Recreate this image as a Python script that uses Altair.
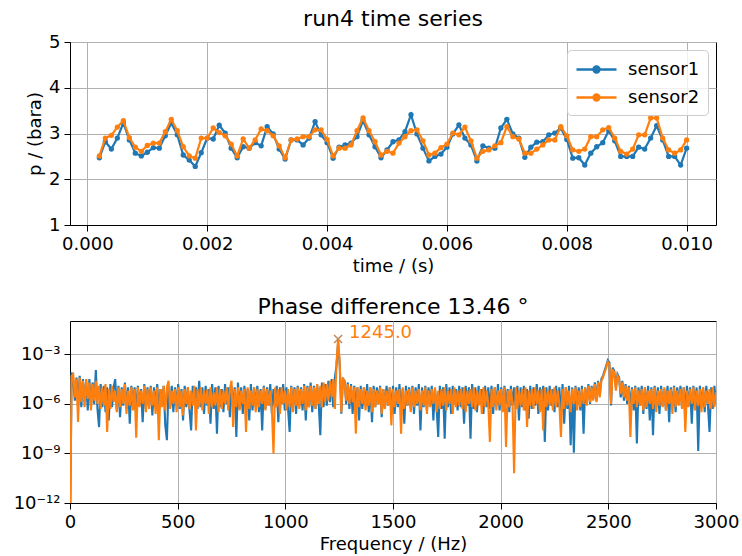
import altair as alt
import pandas as pd

FONT = "DejaVu Sans"
BLUE = "#1f77b4"
ORANGE = "#ff7f0e"

# ---------------- time series (p / bara), samples every 0.1 ms from 0.2 ms ----------------
time_start = 0.0002
time_step = 0.0001
sensor1_p = [2.47, 2.82, 2.66, 2.90, 3.23, 2.86, 2.57, 2.51, 2.59, 2.69,
             2.68, 2.95, 3.23, 2.97, 2.53, 2.42, 2.28, 2.58, 2.90, 2.88,
             3.18, 3.01, 2.68, 2.47, 2.71, 2.68, 2.80, 2.73, 3.15, 2.99,
             2.66, 2.44, 2.86, 2.86, 2.75, 2.90, 3.26, 2.97, 2.80,
             2.46, 2.70, 2.75, 2.79, 2.93, 3.28, 2.97, 2.71, 2.47, 2.64,
             2.82, 2.86, 3.04, 3.41, 2.99, 2.68, 2.40, 2.50, 2.55, 2.70,
             2.99, 3.19, 2.90, 2.75, 2.40, 2.73, 2.68, 2.68, 3.12, 3.31,
             2.99, 2.90, 2.48, 2.70, 2.81, 2.82, 2.97, 3.01, 3.12, 2.87,
             2.46, 2.47, 2.31, 2.57, 2.71, 2.80, 3.06, 2.84, 2.50, 2.50,
             2.50, 2.70, 2.66, 2.90, 3.17, 2.86, 2.50, 2.50, 2.31, 2.68]
sensor2_p = [2.51, 2.90, 2.96, 3.14, 3.28, 2.91, 2.70, 2.61, 2.74, 2.79,
             2.79, 3.04, 3.31, 3.06, 2.71, 2.51, 2.46, 2.90, 2.90, 3.12,
             3.02, 2.95, 2.77, 2.51, 2.88, 2.68, 2.86, 3.10, 3.06, 2.95,
             2.73, 2.47, 2.86, 2.88, 2.93, 2.93, 3.08, 3.08, 2.87,
             2.51, 2.68, 2.68, 2.75, 3.06, 3.34, 3.06, 2.82, 2.53, 2.61,
             2.57, 2.79, 2.93, 3.06, 3.08, 2.84, 2.53, 2.57, 2.69, 2.77,
             3.01, 2.97, 3.14, 2.84, 2.46, 2.61, 2.64, 2.73, 2.80, 3.15,
             2.93, 2.88, 2.57, 2.57, 2.66, 2.75, 2.86, 2.86, 3.15, 2.95,
             2.64, 2.61, 2.66, 2.93, 2.93, 3.08, 3.13, 2.90, 2.61, 2.55,
             2.66, 2.97, 2.97, 3.34, 3.34, 2.90, 2.64, 2.57, 2.64, 2.86]
time_s = [round(time_start + time_step * i, 4) for i in range(len(sensor1_p))]
time_ticks = [0.0, 0.002, 0.004, 0.006, 0.008, 0.010]
p_ticks = [1, 2, 3, 4, 5]

# ---------------- spectrum: log10 of amplitude, every 7.5 Hz from 0 to 3000 Hz ----------------
freq_step = 7.5
sensor1_log = [
    # 0 - 142.5 Hz
    -14, -4.1, -4.6, -5.8, -4.4, -6.0, -4.3, -6.2, -4.5, -5.9, -4.6, -6.4, -4.5, -6.1, -4.7, -6.0, -3.95, -6.3, -7.4, -4.8,
    # 150 - 292.5
    -6.2, -4.9, -6.5, -5.0, -7.0, -4.8, -6.2, -5.0, -4.5, -6.4, -4.9, -6.8, -5.0, -6.1, -4.7, -6.3, -5.0, -7.2, -4.9, -6.2,
    # 300 - 442.5
    -5.0, -6.4, -4.9, -6.1, -5.1, -7.1, -4.8, -6.3, -5.0, -6.0, -4.9, -6.7, -5.0, -6.2, -4.8, -6.4, -5.1, -6.0, -4.9, -7.3,
    # 450 - 592.5
    -8.2, -5.0, -6.2, -4.9, -6.5, -5.0, -6.1, -4.8, -6.3, -5.1, -7.0, -4.9, -6.2, -5.0, -6.4, -7.6, -4.9, -6.0, -5.0, -6.3,
    # 600 - 742.5
    -4.6, -6.2, -5.0, -6.6, -4.9, -6.1, -5.1, -7.2, -4.8, -6.3, -5.0, -7.8, -4.9, -6.2, -5.1, -6.5, -4.8, -6.0, -5.0, -6.8,
    # 750 - 892.5
    -4.9, -6.2, -5.0, -8.0, -4.7, -6.3, -5.0, -6.6, -4.9, -6.1, -5.1, -7.0, -4.8, -6.4, -5.0, -6.2, -4.9, -6.5, -5.1, -7.6,
    # 900 - 1042.5
    -4.9, -6.3, -5.0, -6.1, -4.8, -6.6, -5.1, -6.2, -4.9, -7.1, -5.0, -6.0, -4.8, -6.4, -5.0, -6.3, -7.7, -4.9, -6.2, -5.0,
    # 1050 - 1192.5
    -6.6, -4.9, -6.1, -5.0, -6.4, -4.8, -7.0, -4.9, -6.2, -4.7, -6.5, -4.9, -6.3, -4.8, -6.0, -7.9, -4.7, -6.2, -4.8, -6.1,
    # 1200 - 1342.5
    -4.6, -5.9, -4.5, -6.2, -4.4, -3.7, -2.3, -3.6, -6.6, -4.5, -4.6, -6.0, -4.7, -6.3, -4.8, -6.6, -4.9, -6.2, -5.0, -7.0,
    # 1350 - 1492.5
    -4.9, -6.3, -5.0, -6.1, -4.8, -6.5, -5.0, -7.1, -4.9, -6.2, -5.0, -6.0, -4.9, -6.8, -5.1, -6.3, -4.9, -6.1, -5.0, -6.4,
    # 1500 - 1642.5
    -4.9, -6.6, -5.0, -6.2, -4.8, -6.4, -5.1, -7.2, -4.9, -6.1, -5.0, -6.3, -4.9, -6.6, -5.0, -6.1, -4.8, -7.6, -5.0, -6.2,
    # 1650 - 1792.5
    -4.9, -6.4, -5.0, -6.1, -4.9, -7.0, -5.1, -6.2, -8.0, -4.9, -6.3, -5.0, -8.1, -4.8, -6.2, -5.0, -6.6, -4.9, -6.0, -5.1,
    # 1800 - 1942.5
    -6.4, -4.9, -6.2, -5.0, -7.2, -4.9, -6.1, -5.0, -8.1, -4.8, -6.3, -5.0, -6.5, -4.9, -6.0, -5.1, -6.6, -4.9, -6.2, -5.0,
    # 1950 - 2092.5
    -6.3, -4.9, -6.6, -5.0, -6.1, -4.8, -6.4, -5.0, -6.2, -4.9, -6.0, -5.1, -6.5, -4.9, -6.1, -5.0, -6.3, -4.9, -7.0, -5.0,
    # 2100 - 2242.5
    -6.2, -4.9, -6.4, -5.1, -6.9, -4.9, -6.3, -5.0, -6.1, -4.8, -6.6, -5.0, -6.2, -4.9, -8.3, -5.0, -6.4, -4.9, -6.1, -5.1,
    # 2250 - 2392.5
    -6.5, -4.9, -6.2, -5.0, -6.7, -4.8, -7.2, -5.0, -6.3, -4.9, -8.5, -5.0, -8.95, -4.9, -6.1, -5.0, -6.4, -4.9, -7.8, -5.0,
    # 2400 - 2542.5
    -5.9, -4.8, -6.0, -4.9, -5.7, -4.7, -5.8, -4.6, -5.5, -4.5, -4.3, -4.0, -3.7, -3.35, -3.5, -6.1, -3.8, -4.0, -5.0, -4.2,
    # 2550 - 2692.5
    -4.4, -5.6, -4.6, -5.8, -4.8, -6.0, -4.9, -6.2, -5.0, -6.4, -4.9, -8.4, -5.0, -6.1, -4.9, -6.6, -5.0, -6.3, -4.9, -7.0,
    # 2700 - 2842.5
    -5.0, -7.9, -4.9, -6.2, -5.0, -6.6, -4.9, -6.1, -5.1, -6.4, -4.9, -7.1, -5.0, -6.2, -4.9, -6.5, -5.0, -6.0, -4.9, -6.3,
    # 2850 - 2992.5
    -5.0, -6.4, -4.9, -6.1, -5.0, -7.2, -4.9, -6.3, -5.0, -8.85, -4.9, -6.2, -5.0, -6.5, -4.9, -6.1, -7.7, -5.0, -6.3, -4.9,
    # 3000
    -6.0]
sensor2_log = [
    # 0 - 142.5 Hz
    -14, -4.3, -4.2, -5.6, -4.5, -7.1, -4.4, -5.9, -4.6, -6.2, -4.5, -5.7, -4.7, -6.4, -4.8, -5.8, -4.6, -6.0, -4.9, -6.3,
    # 150 - 292.5
    -5.0, -6.1, -4.8, -7.7, -5.1, -6.3, -4.9, -5.9, -5.2, -6.5, -5.0, -6.2, -5.1, -6.0, -4.8, -6.6, -5.2, -6.1, -5.0, -6.4,
    # 300 - 442.5
    -5.1, -8.05, -5.0, -6.2, -5.2, -6.0, -4.9, -6.5, -5.1, -6.3, -5.0, -6.1, -5.2, -6.6, -5.0, -8.2, -5.1, -6.2, -4.9, -6.4,
    # 450 - 592.5
    -5.0, -4.6, -6.3, -5.2, -6.0, -5.1, -6.5, -5.0, -6.2, -5.2, -6.7, -5.1, -6.0, -5.0, -6.3, -5.2, -6.1, -4.9, -7.6, -5.1,
    # 600 - 742.5
    -6.2, -5.0, -6.4, -5.2, -6.0, -5.1, -6.6, -5.0, -6.2, -5.3, -6.1, -5.0, -6.5, -5.1, -6.3, -5.2, -6.0, -5.0, -6.4, -5.1,
    # 750 - 892.5
    -4.6, -7.4, -5.1, -6.2, -5.0, -6.4, -5.2, -6.0, -5.1, -7.7, -5.0, -6.3, -5.2, -6.1, -5.0, -6.5, -5.1, -6.2, -5.2, -6.0,
    # 900 - 1042.5
    -5.0, -6.4, -5.1, -6.1, -5.2, -6.3, -9.0, -5.0, -6.2, -5.1, -6.6, -5.0, -6.0, -5.2, -6.4, -5.1, -6.2, -5.0, -6.5, -5.1,
    # 1050 - 1192.5
    -6.1, -5.0, -6.3, -5.1, -6.0, -4.9, -6.4, -5.0, -6.2, -4.9, -6.1, -5.0, -6.3, -4.8, -6.0, -4.9, -6.2, -4.7, -5.9, -4.8,
    # 1200 - 1342.5
    -5.8, -4.6, -5.6, -4.5, -6.3, -3.6, -2.07, -3.5, -6.5, -4.4, -4.7, -5.8, -4.8, -6.0, -4.9, -5.9, -5.0, -7.8, -5.0, -6.2,
    # 1350 - 1492.5
    -5.1, -6.0, -5.0, -6.4, -5.2, -6.1, -5.0, -6.5, -5.1, -6.2, -5.2, -6.0, -5.0, -6.6, -5.1, -6.3, -5.2, -6.1, -5.0, -7.3,
    # 1500 - 1642.5
    -5.1, -6.2, -5.2, -6.0, -5.1, -7.8, -5.0, -6.3, -5.2, -6.1, -5.1, -6.5, -5.0, -6.2, -5.2, -6.0, -5.1, -6.4, -5.2, -6.1,
    # 1650 - 1792.5
    -5.0, -6.6, -5.2, -6.2, -5.1, -6.0, -5.0, -6.5, -5.2, -6.3, -5.1, -6.1, -5.0, -6.4, -5.2, -6.0, -5.1, -6.6, -5.0, -6.2,
    # 1800 - 1942.5
    -5.2, -6.1, -5.1, -6.3, -5.0, -6.5, -5.2, -6.0, -5.1, -6.2, -5.0, -6.4, -5.2, -6.1, -5.1, -6.6, -5.0, -6.2, -5.2, -6.0,
    # 1950 - 2092.5
    -8.3, -5.1, -6.2, -5.0, -6.4, -5.2, -6.1, -5.1, -6.5, -5.0, -8.6, -5.2, -6.2, -5.1, -6.0, -10.2, -5.0, -6.3, -5.2, -6.1,
    # 2100 - 2242.5
    -5.1, -6.4, -5.0, -7.4, -5.2, -6.1, -5.1, -6.3, -5.0, -6.0, -5.2, -6.5, -5.1, -7.6, -5.0, -6.2, -5.2, -6.1, -5.1, -6.4,
    # 2250 - 2392.5
    -5.0, -6.2, -5.2, -6.0, -8.0, -5.1, -6.3, -5.0, -6.1, -5.2, -6.5, -5.1, -6.0, -5.0, -6.4, -5.2, -6.2, -5.1, -6.0, -5.0,
    # 2400 - 2542.5
    -6.1, -4.9, -5.9, -5.0, -5.8, -4.8, -5.9, -4.7, -5.6, -4.6, -4.4, -4.1, -3.8, -3.45, -3.6, -6.0, -3.9, -4.1, -5.2, -4.3,
    # 2550 - 2692.5
    -4.5, -5.4, -4.7, -5.6, -4.9, -5.8, -5.0, -8.0, -5.1, -6.0, -5.0, -6.2, -5.2, -6.1, -5.1, -6.4, -5.0, -6.2, -5.2, -6.0,
    # 2700 - 2842.5
    -5.1, -6.3, -5.0, -6.5, -5.2, -6.1, -5.1, -6.2, -5.0, -6.4, -5.2, -6.0, -5.1, -6.6, -5.0, -6.2, -5.2, -6.1, -5.1, -6.3,
    # 2850 - 2992.5
    -5.0, -7.7, -5.2, -6.2, -5.1, -6.0, -5.0, -6.4, -5.2, -6.1, -5.1, -6.5, -5.0, -6.2, -5.2, -6.0, -5.1, -6.3, -5.0, -6.2,
    # 3000
    -5.3]
freq_hz = [freq_step * j for j in range(len(sensor1_log))]
freq_ticks = [0, 500, 1000, 1500, 2000, 2500, 3000]
amp_ticks = [1e-12, 1e-9, 1e-6, 1e-3]

peak_freq = 1245.0
peak_index = 166
phase_difference_deg = 13.46

# ---------------- tables ----------------
ts_df = pd.DataFrame({
    "t": time_s * 2,
    "p": sensor1_p + sensor2_p,
    "sensor": ["sensor1"] * len(sensor1_p) + ["sensor2"] * len(sensor2_p),
})
spec_df = pd.DataFrame({
    "f": freq_hz * 2,
    "amp": [10 ** v for v in sensor1_log] + [10 ** v for v in sensor2_log],
    "sensor": ["sensor1"] * len(sensor1_log) + ["sensor2"] * len(sensor2_log),
})
peak_df = pd.DataFrame({
    "f": [peak_freq],
    "amp": [10 ** sensor2_log[peak_index]],
    "label": [f"{peak_freq:.1f}"],
})

TICK_FS = 18
TITLE_FS = 22

color_scale = alt.Scale(domain=["sensor1", "sensor2"], range=[BLUE, ORANGE])

legend_symbol = "M-1,0H3M0.7,0A0.3,0.3,0,1,1,1.3,0A0.3,0.3,0,1,1,0.7,0"
legend = alt.Legend(
    title=None, orient="top-right", offset=8,
    symbolType=legend_symbol, symbolSize=400, symbolStrokeWidth=2.4,
    labelFont=FONT, labelFontSize=TICK_FS, labelColor="black", labelOffset=30,
    fillColor="rgba(255,255,255,0.8)", strokeColor="#cccccc", cornerRadius=4,
    padding=8, rowPadding=7,
)

x_ts = alt.X("t:Q", title="time / (s)",
             scale=alt.Scale(domain=[-0.00029, 0.01049], nice=False, zero=False),
             axis=alt.Axis(values=time_ticks, format=".3f", labelFlush=False))
y_ts = alt.Y("p:Q", title="p / (bara)",
             scale=alt.Scale(domain=[1, 5], nice=False, zero=False),
             axis=alt.Axis(values=p_ticks, labelFlush=False))
color_ts = alt.Color("sensor:N", scale=color_scale, legend=legend)

base_ts = alt.Chart(ts_df).encode(x=x_ts, y=y_ts, color=color_ts)
layers_ts = []
for s in ["sensor1", "sensor2"]:
    f = base_ts.transform_filter(alt.datum.sensor == s)
    layers_ts.append(f.mark_line(strokeWidth=2.2))
    layers_ts.append(f.mark_circle(size=28, opacity=1))

top = alt.layer(*layers_ts).properties(
    width=646, height=183,
    title=alt.TitleParams("run4 time series", fontSize=TITLE_FS, font=FONT,
                          fontWeight="normal", color="black", offset=2),
)

# ---------------- spectrum ----------------
x_sp = alt.X("f:Q", title="Frequency / (Hz)",
             scale=alt.Scale(domain=[0, 3000], nice=False, zero=False),
             axis=alt.Axis(values=freq_ticks, format="d", labelFlush=False))
y_sp = alt.Y("amp:Q", title=None,
             scale=alt.Scale(type="log", domain=[1e-12, 0.105], nice=False),
             axis=alt.Axis(values=amp_ticks, labelFlush=False,
                           labelExpr="datum.value < 1e-10 ? '10⁻¹²' : datum.value < 1e-7 ? '10⁻⁹' : datum.value < 1e-4 ? '10⁻⁶' : '10⁻³'"))

base_sp = alt.Chart(spec_df).encode(x=x_sp, y=y_sp)
spec_blue = base_sp.transform_filter(alt.datum.sensor == "sensor1").mark_line(
    clip=True, strokeWidth=2.1, color=BLUE)
spec_orange = base_sp.transform_filter(alt.datum.sensor == "sensor2").mark_line(
    clip=True, strokeWidth=2.1, color=ORANGE)

peak_base = alt.Chart(peak_df).encode(x="f:Q", y="amp:Q")
peak_mark = peak_base.mark_point(shape="M-1,-1L1,1M-1,1L1,-1", filled=False,
                                 size=64, strokeWidth=1.5, color="#c4875a", opacity=1)
peak_text = peak_base.mark_text(align="left", baseline="middle", dx=11, dy=-6,
                                font=FONT, fontSize=TICK_FS, color=ORANGE).encode(text="label:N")

bottom = alt.layer(spec_blue, spec_orange, peak_mark, peak_text).properties(
    width=646, height=182,
    title=alt.TitleParams(f"Phase difference {phase_difference_deg:.2f} °", fontSize=TITLE_FS,
                          font=FONT, fontWeight="normal", color="black", offset=2),
)

chart = alt.vconcat(top, bottom, spacing=19).resolve_legend(color="independent").properties(
    padding={"left": 12, "top": 7, "right": 2, "bottom": 2},
    background="white",
).configure_view(
    stroke="black", strokeWidth=1
).configure_axis(
    domainColor="black", domainWidth=1, tickColor="black", tickSize=6, tickWidth=1,
    labelFont=FONT, labelFontSize=TICK_FS, labelColor="black", labelPadding=4,
    titleFont=FONT, titleFontSize=TICK_FS, titleFontWeight="normal", titleColor="black",
    titlePadding=4, gridColor="#b0b0b0", gridWidth=1, labelOverlap=False,
)

chart.save("out.html", embed_options={"renderer": "svg", "actions": False})
